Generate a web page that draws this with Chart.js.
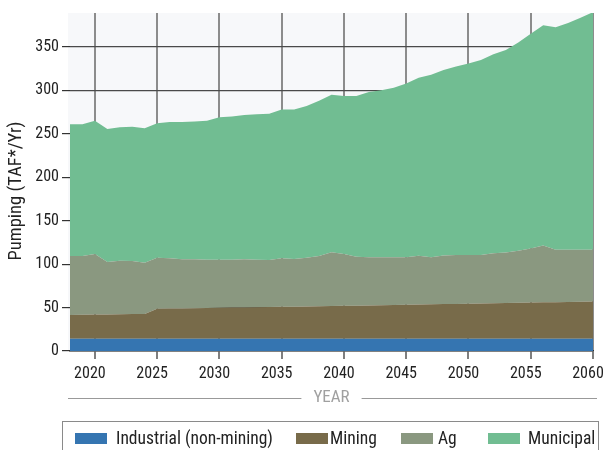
<!DOCTYPE html>
<html>
<head>
<meta charset="utf-8">
<script src="https://cdn.jsdelivr.net/npm/chart.js@4.4.1/dist/chart.umd.min.js"></script>
<style>
  html, body { margin: 0; padding: 0; background: #fff; }
  #wrap { position: relative; width: 606px; height: 450px; overflow: hidden; font-family: 'Roboto Condensed', sans-serif; }
  canvas { position: absolute; left: 0; top: 0; }
  #legend { position: absolute; left: 62px; top: 421px; width: 535px; height: 40px; border: 1px solid #8a8a8a; }
  .item { position: absolute; top: 6px; display: flex; align-items: center; font-size: 17.5px; line-height: 21px; color: #222; white-space: nowrap; }
  .sw { display: inline-block; width: 32px; height: 11px; }
</style>
</head>
<body>
<div id="wrap">
  <canvas id="c" width="606" height="450"></canvas>
  <div id="legend"></div>
</div>
<script>
const years = [2018,2019,2020,2021,2022,2023,2024,2025,2026,2027,2028,2029,2030,2031,2032,2033,2034,2035,2036,2037,2038,2039,2040,2041,2042,2043,2044,2045,2046,2047,2048,2049,2050,2051,2052,2053,2054,2055,2056,2057,2058,2059,2060];
const industrial = [14,14,14,14,14,14,14,14,14,14,14,14,14,14,14,14,14,14,14,14,14,14,14,14,14,14,14,14,14,14,14,14,14,14,14,14,14,14,14,14,14,14,14];
const mining = [27.5,27.7,27.9,28.1,28.3,28.5,28.7,34.5,34.8,35,35.2,35.5,35.8,36,36.2,36.4,36.6,36.8,37,37.2,37.4,37.7,38,38.2,38.5,38.7,39,39.2,39.5,39.7,40,40.2,40.5,40.7,41,41.2,41.5,41.7,42,42.2,42.5,42.7,43];
const ag = [67.9,67.7,69.8,60.4,61.7,61.1,59,58.9,57.9,56.5,56.3,55.6,55.3,55.1,55.3,54.7,54.2,55.9,54.9,56.2,58,61.9,59.6,56.3,55.5,55.3,54.8,54.6,56,54.1,56,56.3,56,55.8,57.5,58.3,60,62.3,65.5,60.3,60,59.8,59.5];
const municipal = [151.6,151.6,153.3,153,153.5,154.4,154.8,154.6,156.8,158,158.5,159.9,163.9,164.9,166,167.4,168.2,171.3,172.1,174.6,178.6,181.4,181.9,185,190,192,195.2,200.2,205,210.2,213.5,217,220.5,224.5,229,233,239.5,247,253.5,256,261,267,273.5];
const xTicks = [2020,2025,2030,2035,2040,2045,2050,2055,2060];
const yTicks = [0,50,100,150,200,250,300,350];
const seriesNames = ['Industrial (non-mining)','Mining','Ag','Municipal'];
const seriesColors = ['#3575b1','#786b4a','#8a9880','#71bd92'];
const yTitle = 'Pumping (TAF*/Yr)';
const xTitle = 'YEAR';

const FONT = "'Roboto Condensed', sans-serif";
const seriesData = [industrial, mining, ag, municipal];

const datasets = seriesNames.map((name, i) => ({
  label: name,
  data: years.map((y, k) => ({x: y, y: seriesData[i][k]})),
  backgroundColor: seriesColors[i],
  borderWidth: 0,
  pointRadius: 0,
  tension: 0,
  fill: i === 0 ? 'origin' : '-1'
}));

const bgPlugin = {
  id: 'bg',
  beforeDraw(chart) {
    const {ctx, chartArea: a} = chart;
    ctx.save();
    ctx.fillStyle = '#f7f8fa';
    ctx.fillRect(a.left - 2, a.top, a.right - a.left + 2, a.bottom - a.top);
    ctx.restore();
  },
  afterDraw(chart) {
    const {ctx, chartArea: a} = chart;
    const cx = (a.left + a.right) / 2;
    const y = a.bottom + 47;
    ctx.save();
    ctx.font = '17px ' + FONT;
    ctx.fillStyle = '#a0a0a0';
    ctx.textAlign = 'center';
    ctx.textBaseline = 'middle';
    ctx.fillText(xTitle, cx, y);
    const w = ctx.measureText(xTitle).width;
    ctx.strokeStyle = '#999';
    ctx.lineWidth = 1;
    ctx.beginPath();
    ctx.moveTo(a.left - 2, y + 0.5); ctx.lineTo(cx - w / 2 - 12, y + 0.5);
    ctx.moveTo(cx + w / 2 + 12, y + 0.5); ctx.lineTo(chart.width - 9, y + 0.5);
    ctx.stroke();
    // y-axis title
    ctx.translate(16, (a.top + a.bottom) / 2 + 9);
    ctx.rotate(-Math.PI / 2);
    ctx.font = '18.5px ' + FONT;
    ctx.fillStyle = '#222';
    ctx.fillText(yTitle, 0, 0);
    ctx.restore();
  }
};

new Chart(document.getElementById('c'), {
  type: 'line',
  data: { datasets },
  options: {
    responsive: false,
    animation: false,
    layout: { padding: { top: 13, right: 13, left: 0, bottom: 0 } },
    plugins: { legend: { display: false }, tooltip: { enabled: false } },
    scales: {
      x: {
        type: 'linear', min: 2018, max: 2060,
        afterBuildTicks: s => { s.ticks = xTicks.map(v => ({value: v})); },
        afterFit: s => { s.height = 99; s.paddingLeft = 0; s.paddingRight = 0; },
        ticks: { font: { family: FONT, size: 16 }, color: '#222', padding: 5, labelOffset: -5, maxRotation: 0, callback: v => String(v) },
        grid: { color: '#8c8c8c', lineWidth: 2, tickLength: 8, tickColor: '#555', tickWidth: 1.5 },
        border: { display: true, color: '#333', width: 1.5 }
      },
      y: {
        stacked: true, min: 0, max: 389,
        afterBuildTicks: s => { s.ticks = yTicks.map(v => ({value: v})); },
        afterFit: s => { s.width = 70; s.paddingTop = 0; s.paddingBottom = 0; },
        ticks: { font: { family: FONT, size: 16 }, color: '#222', padding: 3 },
        grid: { color: '#4a4a4a', lineWidth: 1.2, tickLength: 8, tickColor: '#333' },
        border: { display: false }
      }
    }
  },
  plugins: [bgPlugin]
});

// HTML legend
const legendLefts = [12, 233, 338, 425];
const legendGaps = [9, 2, 5, 8];
const lg = document.getElementById('legend');
seriesNames.forEach((n, i) => {
  const it = document.createElement('div');
  it.className = 'item';
  it.style.left = legendLefts[i] + 'px';
  const sw = document.createElement('span');
  sw.className = 'sw';
  sw.style.background = seriesColors[i];
  sw.style.marginRight = legendGaps[i] + 'px';
  const tx = document.createElement('span');
  tx.textContent = n;
  it.appendChild(sw); it.appendChild(tx);
  lg.appendChild(it);
});
</script>
</body>
</html>
